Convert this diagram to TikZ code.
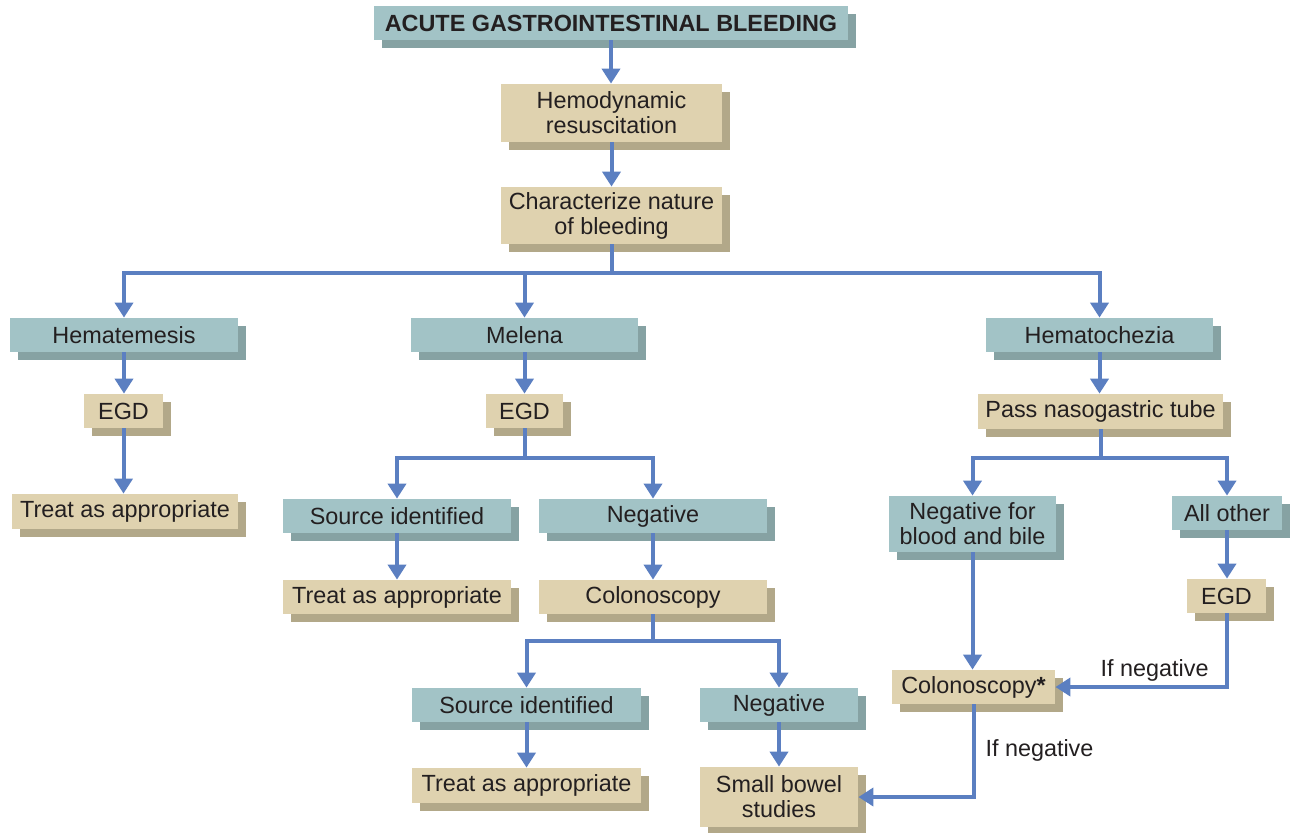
\documentclass[tikz,border=0pt]{standalone}
\usepackage{fontspec}
\setmainfont{Liberation Sans}
\usepackage{xcolor}
\usepackage{tikz}
\usetikzlibrary{arrows.meta, shadows}

\definecolor{tealfill}{HTML}{A2C3C6}
\definecolor{tealshade}{HTML}{86A2A3}
\definecolor{tanfill}{HTML}{DFD2AF}
\definecolor{tanshade}{HTML}{B2A889}
\definecolor{flowblue}{HTML}{5B7FC1}
\definecolor{inkdark}{HTML}{231F20}

\begin{document}
\begin{tikzpicture}[
    x=0.5pt, y=-0.5pt,
    every node/.style={font=\fontsize{11.7}{12.5}\selectfont, align=center, text=inkdark},
    tealbox/.style={rectangle, fill=tealfill, inner sep=0pt, minimum height=17pt,
        drop shadow={shadow xshift=4pt, shadow yshift=-4pt, fill=tealshade, opacity=1}},
    tanbox/.style={rectangle, fill=tanfill, inner sep=0pt, minimum height=17pt,
        drop shadow={shadow xshift=4pt, shadow yshift=-4pt, fill=tanshade, opacity=1}},
    label/.style={font=\fontsize{11.7}{12.5}\selectfont, inner sep=2pt},
    arrow/.style={-{Triangle[width=9pt, length=7.5pt]}, line width=2pt, draw=flowblue}
]
\useasboundingbox (0,0) rectangle (1290,832);

% Top of the chart
\node (title) [tealbox, minimum width=237pt, font=\fontsize{11.7}{12.5}\selectfont\bfseries] at (611,23) {ACUTE GASTROINTESTINAL BLEEDING};
\node (hemo) [tanbox, minimum width=110.5pt, minimum height=29pt] at (611.5,113) {Hemodynamic\\resuscitation};
\node (nature) [tanbox, minimum width=110.5pt, minimum height=28.5pt] at (611.5,215.5) {Characterize nature\\of bleeding};

% Hematemesis branch
\node (hematem) [tealbox, minimum width=114pt] at (124,335) {Hematemesis};
\node (egdA) [tanbox, minimum width=39.5pt] at (123.5,411) {EGD};
\node (treatA) [tanbox, minimum width=113pt, minimum height=17.5pt] at (125,511.5) {Treat as appropriate};

% Melena branch
\node (melena) [tealbox, minimum width=113.5pt] at (524.5,335) {Melena};
\node (egdB) [tanbox, minimum width=38.5pt] at (524.5,411) {EGD};
\node (sourceB) [tealbox, minimum width=114pt] at (397,516) {Source identified};
\node (negB) [tealbox, minimum width=114pt] at (653,516) {Negative};
\node (treatB) [tanbox, minimum width=114pt] at (397,597) {Treat as appropriate};
\node (colonB) [tanbox, minimum width=114pt] at (653,597) {Colonoscopy};
\node (sourceC) [tealbox, minimum width=114.5pt] at (526.5,705) {Source identified};
\node (negC) [tealbox, minimum width=79pt] at (779,705) {Negative};
\node (treatC) [tanbox, minimum width=114.5pt, minimum height=17.5pt] at (526.5,785.5) {Treat as appropriate};
\node (bowel) [tanbox, minimum width=79pt, minimum height=30pt] at (779,797) {Small bowel\\studies};

% Hematochezia branch
\node (hematoch) [tealbox, minimum width=113.5pt] at (1099.5,335) {Hematochezia};
\node (ngtube) [tanbox, minimum width=122.5pt, minimum height=17.5pt] at (1100.5,411.5) {Pass nasogastric tube};
\node (negblood) [tealbox, minimum width=83.5pt, minimum height=28pt] at (972.5,524) {Negative for\\blood and bile};
\node (allother) [tealbox, minimum width=55pt] at (1227,513) {All other};
\node (egdC) [tanbox, minimum width=39.5pt] at (1226.5,596) {EGD};
\node (colonD) [tanbox, minimum width=81.5pt] at (973.5,687) {Colonoscopy{\bfseries*}};

% Arrows
\draw [arrow] (title.south) -- (title.south |- hemo.north);
\draw [arrow] (hemo.south) -- (hemo.south |- nature.north);
\draw [arrow] (nature.south) -- ++(0,29) -| (hematem.north);
\draw [arrow] (nature.south) -- ++(0,29) -| (melena.north);
\draw [arrow] (nature.south) -- ++(0,29) -| (hematoch.north);

\draw [arrow] (hematem.south) -- (hematem.south |- egdA.north);
\draw [arrow] (egdA.south) -- (egdA.south |- treatA.north);

\draw [arrow] (melena.south) -- (melena.south |- egdB.north);
\draw [arrow] (egdB.south) -- ++(0,30) -| (sourceB.north);
\draw [arrow] (egdB.south) -- ++(0,30) -| (negB.north);
\draw [arrow] (sourceB.south) -- (sourceB.south |- treatB.north);
\draw [arrow] (negB.south) -- (negB.south |- colonB.north);
\draw [arrow] (colonB.south) -- ++(0,27) -| (sourceC.north);
\draw [arrow] (colonB.south) -- ++(0,27) -| (negC.north);
\draw [arrow] (sourceC.south) -- (sourceC.south |- treatC.north);
\draw [arrow] (negC.south) -- (negC.south |- bowel.north);

\draw [arrow] (hematoch.south) -- (hematoch.south |- ngtube.north);
\draw [arrow] (ngtube.south) -- ++(0,29) -| (negblood.north);
\draw [arrow] (ngtube.south) -- ++(0,29) -| (allother.north);
\draw [arrow] (negblood.south) -- (negblood.south |- colonD.north);
\draw [arrow] (allother.south) -- (allother.south |- egdC.north);

% "If negative" routes
\draw [arrow] (egdC.south) |- (colonD.east)
    node[label, pos=0.71, above] {If negative};
\draw [arrow] (colonD.south) |- (bowel.east)
    node[label, pos=0.25, right=3pt] {If negative};

\end{tikzpicture}
\end{document}
